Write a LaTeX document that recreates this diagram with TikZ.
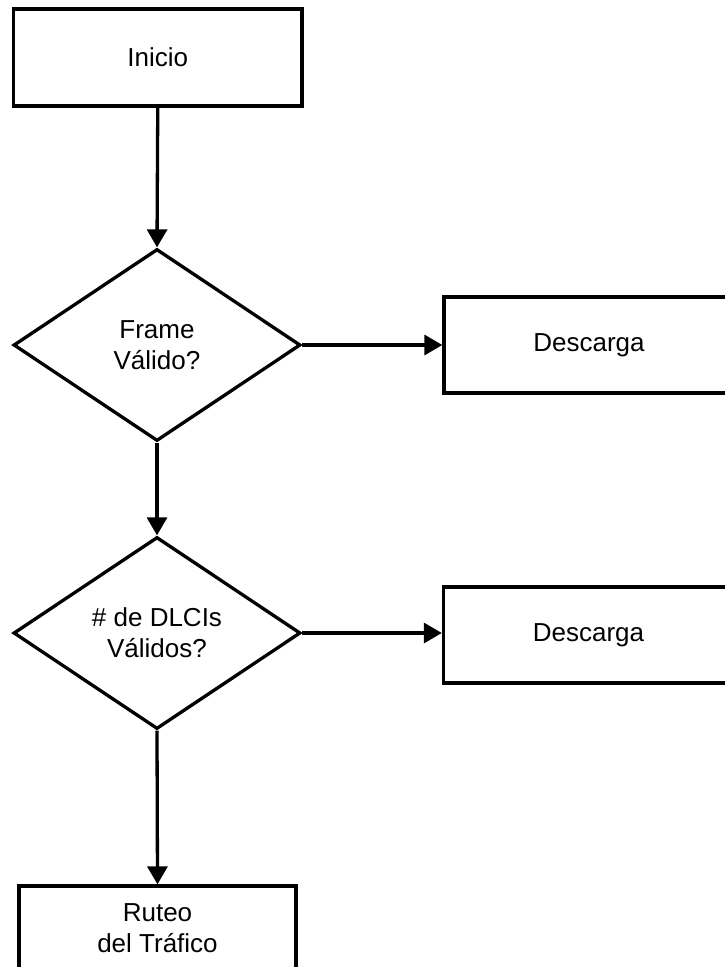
\documentclass[tikz,border=0pt]{standalone}
\usepackage{fontspec}
\setmainfont{Liberation Sans}
\usetikzlibrary{shapes.geometric,arrows.meta}
\begin{document}
\begin{tikzpicture}[x=1pt,y=1pt,
  every node/.style={font=\fontsize{26}{31}\selectfont, align=center},
  procbox/.style={draw=black, line width=3.3pt, rectangle, inner sep=0pt},
  decision/.style={draw=black, line width=3.3pt, diamond, inner sep=0pt, minimum width=287pt, minimum height=192pt},
  flow/.style={line width=3.3pt, -{Triangle[length=18pt,width=20pt]}}
]
\clip (0,0) rectangle (725,-967);
\fill[white] (0,0) rectangle (725,-967);
\node[procbox, minimum width=288.5pt, minimum height=97pt] (inicio) at (157.75,-57.5) {Inicio};
\node[decision] (d1) at (157,-345) {Frame\\Válido?};
\node[procbox, minimum width=290pt, minimum height=96pt] (desc1) at (589,-345) {Descarga};
\node[decision] (d2) at (157,-633) {\# de DLCIs\\Válidos?};
\node[procbox, minimum width=290pt, minimum height=96pt] (desc2) at (588.5,-635) {Descarga};
\node[procbox, minimum width=277pt, minimum height=84pt] (ruteo) at (157.5,-928) {Ruteo\\del Tráfico};
\draw[flow] (inicio.south) -- (d1.north);
\draw[flow] (d1.east) -- (d1.east -| desc1.west);
\draw[flow] (d1.south) -- (d2.north);
\draw[flow] (d2.east) -- (d2.east -| desc2.west);
\draw[flow] (d2.south) -- (ruteo.north);
\end{tikzpicture}
\end{document}
